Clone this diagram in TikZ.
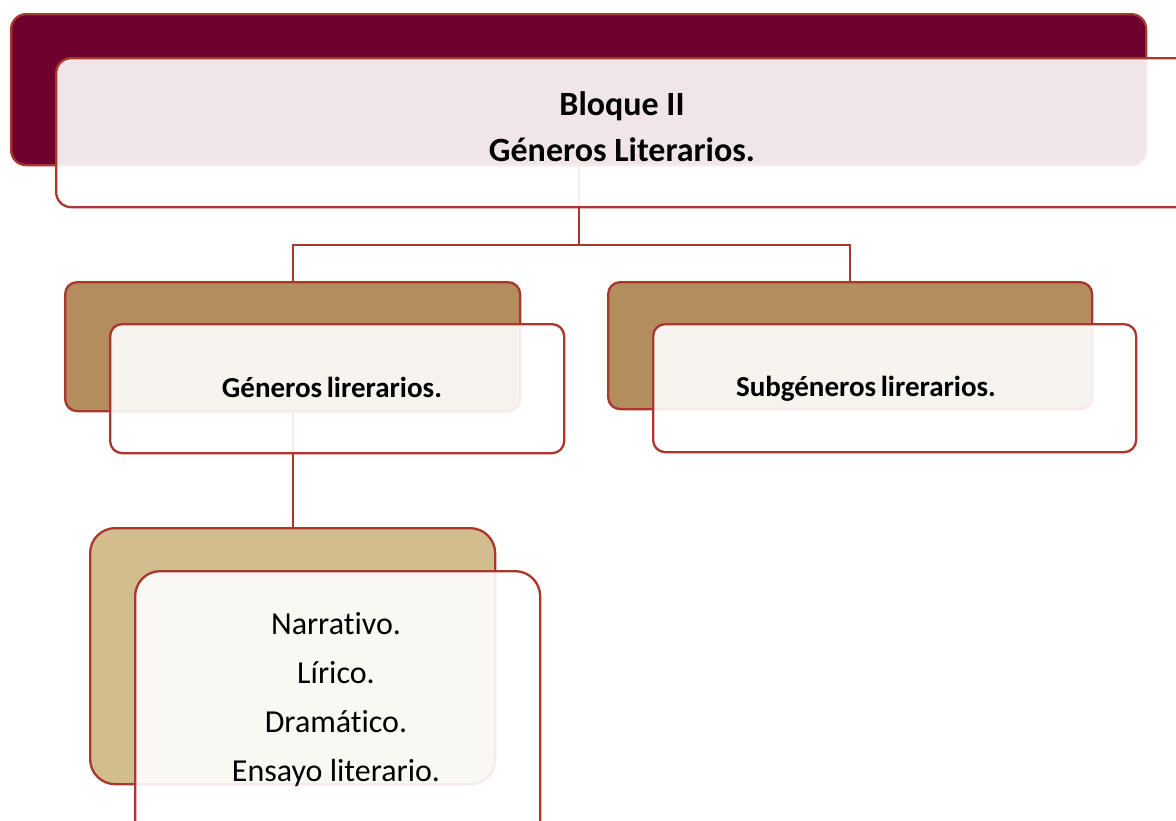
\documentclass[tikz,border=0pt]{standalone}
\usepackage{fontspec}
\setmainfont{Carlito}[Ligatures={NoCommon}]
\usetikzlibrary{backgrounds}
\definecolor{edge}{RGB}{169,55,46}
\definecolor{wine}{RGB}{110,0,48}
\definecolor{tanbox}{RGB}{179,141,93}
\definecolor{sandbox}{RGB}{211,188,141}
\begin{document}
\begin{tikzpicture}[x=1pt,y=-1pt,
  box/.style={draw=edge, line width=2.3pt, rectangle, inner sep=0pt, anchor=north west},
  front/.style={box, fill=white, fill opacity=0.9},
  link/.style={draw=edge, line width=2.3pt},
  lbl/.style={anchor=base, inner sep=0pt},
  headfont/.style={font=\bfseries\fontsize{34}{40}\selectfont},
  midfont/.style={font=\bfseries\fontsize{29}{35}\selectfont},
  listfont/.style={font=\fontsize{32}{38}\selectfont}]
\useasboundingbox (0,0) rectangle (1176,820);
\clip (0,0) rectangle (1176,820);
% top pair
\node[box, fill=wine, rounded corners=15pt, minimum width=1135pt, minimum height=151pt] (topback) at (10,13) {};
\node[front, rounded corners=15pt, minimum width=1150pt, minimum height=149pt] (topfront) at (55,57) {};
% Generos pair
\node[box, fill=tanbox, rounded corners=12pt, minimum width=455pt, minimum height=129pt] (genback) at (64,281) {};
\node[front, rounded corners=12pt, minimum width=454pt, minimum height=129pt] (genfront) at (109,323) {};
% Subgeneros pair
\node[box, fill=tanbox, rounded corners=12pt, minimum width=484pt, minimum height=127pt] (subback) at (607,281) {};
\node[front, rounded corners=12pt, minimum width=483pt, minimum height=128pt] (subfront) at (652,323) {};
% list pair
\node[box, fill=sandbox, rounded corners=25pt, minimum width=405pt, minimum height=256pt] (narback) at (89,527) {};
\node[front, rounded corners=25pt, minimum width=405pt, minimum height=280pt] (narfront) at (134,570) {};
% connectors
\begin{scope}[on background layer]
\draw[link] (topback.south) -- ++(0,79) coordinate (bus) -| (genback.north);
\draw[link] (bus) -| (subback.north);
\draw[link] (genback.south) -- (narback.north);
\end{scope}
% texts
\node[lbl, headfont] (t1) at (622,115) {Bloque II};
\node[lbl, headfont] (t2) at (622,161) {Géneros Literarios.};
\node[lbl, midfont] (t3) at (332,397) {Géneros\hspace{-2pt} lirerarios.};
\node[lbl, midfont] (t4) at (866,396) {Subgéneros\hspace{-2pt} lirerarios.};
\node[lbl, listfont] (l1) at (336,634) {Narrativo.};
\node[lbl, listfont] (l2) at (336,683) {Lírico.};
\node[lbl, listfont] (l3) at (336,732) {Dramático.};
\node[lbl, listfont] (l4) at (336,781) {Ensayo literario.};
\end{tikzpicture}
\end{document}
